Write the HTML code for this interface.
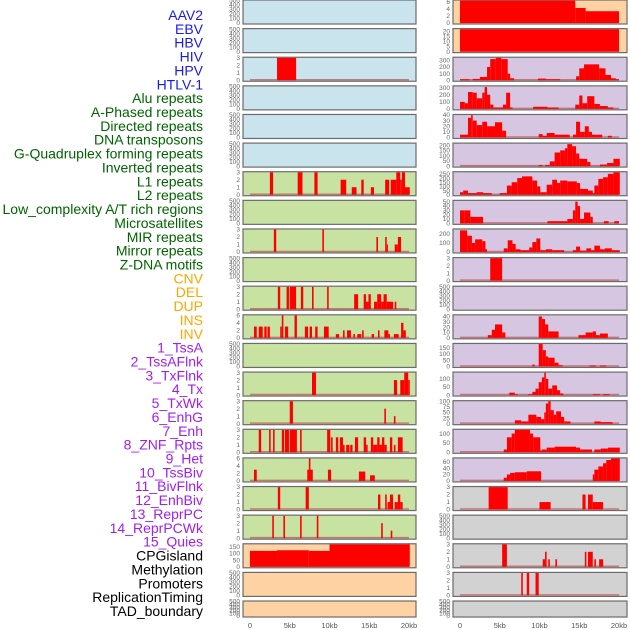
<!DOCTYPE html>
<html><head><meta charset="utf-8"><style>
body{margin:0;background:#fff;width:630px;height:630px;overflow:hidden}
svg{display:block;font-family:"Liberation Sans",sans-serif}
</style></head><body>
<svg id="chart" width="630" height="630" viewBox="0 0 630 630" xmlns="http://www.w3.org/2000/svg"></svg>
<script>
const labels=["AAV2","EBV","HBV","HIV","HPV","HTLV-1","Alu repeats","A-Phased repeats","Directed repeats","DNA transposons","G-Quadruplex forming repeats","Inverted repeats","L1 repeats","L2 repeats","Low_complexity A/T rich regions","Microsatellites","MIR repeats","Mirror repeats","Z-DNA motifs","CNV","DEL","DUP","INS","INV","1_TssA","2_TssAFlnk","3_TxFlnk","4_Tx","5_TxWk","6_EnhG","7_Enh","8_ZNF_Rpts","9_Het","10_TssBiv","11_BivFlnk","12_EnhBiv","13_ReprPC","14_ReprPCWk","15_Quies","CPGisland","Methylation","Promoters","ReplicationTiming","TAD_boundary"];
const labelColors=["#1a1aee","#1a1aee","#1a1aee","#1a1aee","#1a1aee","#1a1aee","#006400","#006400","#006400","#006400","#006400","#006400","#006400","#006400","#006400","#006400","#006400","#006400","#006400","#ffa500","#ffa500","#ffa500","#ffa500","#ffa500","#a020f0","#a020f0","#a020f0","#a020f0","#a020f0","#a020f0","#a020f0","#a020f0","#a020f0","#a020f0","#a020f0","#a020f0","#a020f0","#a020f0","#a020f0","#000","#000","#000","#000","#000"];
const xTickValues=[0,5,10,15,20];
const xTickLabels=["0","5kb","10kb","15kb","20kb"];
const E=[0,100,200,300,400,500];
const T3=[0,1,2,3];
const leftTicks=[E,E,T3,E,E,E,T3,E,T3,E,T3,[0,2,4,6],E,T3,T3,T3,[0,2,4,6],T3,T3,[0,50,100,150],E,E];
const leftMax=[500,500,3,500,500,500,3,500,3,500,3,6,500,3,3,3,6,3,3,170,500,500];
const leftSegs=[[],[],[[3.4,5.8,3]],[],[],[],
[[2.5,2.9,3],[6.0,6.6,3],[8.1,8.5,3],[11.4,12.1,2],[12.8,13.4,1],[14,14.3,2],[15.2,15.6,1],[17,17.5,2],[17.7,18.4,2],[18.4,18.9,3],[18.9,19.1,2],[19.1,19.5,3],[19.5,20.1,1]],
[],
[[3.0,3.3,3],[9.1,9.3,3],[15.9,16.1,2],[17.0,17.2,2],[17.2,17.3,1],[18.2,18.6,1],[18.6,19.0,2]],
[],
[[3.5,3.8,3],[4.6,4.9,3],[5.0,5.8,3],[6.4,6.7,3],[7.8,8.0,3],[9.7,9.9,3],[13.1,13.6,2],[14.3,14.6,2],[14.6,14.9,1],[14.9,15.2,2],[15.6,16,1],[16,16.5,2],[16.5,16.8,1],[16.8,17.2,2],[17.2,18.0,1],[18.2,18.4,1]],
[[0.5,0.85,3],[1.1,1.6,3],[1.8,2.1,3],[2.2,2.5,3],[3.8,4.0,3],[4.0,4.2,6],[4.4,4.8,3],[5.6,5.9,6],[6.9,7.3,3],[7.5,7.8,3],[8.2,8.5,3],[9.3,9.9,3],[10.8,11.2,1],[11.7,11.9,2],[12.2,12.7,2],[13,13.2,1],[13.5,14.0,1],[14.1,14.3,2],[15.3,15.6,1],[16.1,16.3,2],[16.9,17.4,2],[17.4,17.6,1],[18.1,18.7,1],[19.0,19.3,4],[19.3,19.6,2]],
[],
[[7.8,8.3,3],[18.1,18.5,2],[18.9,19.4,2],[19.4,19.9,3],[19.9,20.1,2]],
[[5.0,5.4,3],[16.9,17.1,2],[18.1,18.3,1]],
[[1.1,1.4,3],[2.4,2.6,3],[2.9,3.1,3],[4.0,4.3,3],[4.4,4.9,3],[5.0,5.9,3],[6.3,6.5,3],[9.7,10.1,3],[10.2,10.4,2],[10.8,11.1,2],[11.3,11.7,2],[11.7,11.9,1],[12.1,12.5,1],[12.6,12.9,1],[13.2,13.6,2],[14.3,14.6,2],[14.6,14.8,1],[15.2,15.5,2],[15.5,16,1],[16,16.3,2],[16.3,16.6,1],[16.6,16.9,2],[16.9,17.2,1],[17.6,17.9,2],[18.1,18.3,1],[18.6,19.2,2]],
[[0.5,0.85,3],[7.2,7.9,3],[7.4,7.6,6],[9.8,10.2,3],[13.7,14.5,2.5],[15.1,15.7,1.5]],
[[3.5,3.8,3],[7.0,7.4,3],[16.1,16.4,2],[17.0,17.2,2],[17.3,17.6,1],[17.6,18.0,2],[18.2,18.6,1],[18.6,18.9,2],[18.9,19.2,1]],
[[2.8,3.0,3],[4.2,4.4,3],[6.3,6.5,3],[8.4,8.6,3],[16.5,16.7,2],[17.7,17.9,1]],
[[0,3.4,120],[3.4,7.4,125],[7.4,10,120],[10,20.1,170]],
[],[]];
const rightTicks=[[0,2,4,6],[0,5,10,15,20],[0,100,200,300],[0,100,200,300],[0,10,20,30,40],[0,50,100,150,200],[0,50,100,150,200,250],[0,10,20,30,40,50],[0,100,200],T3,E,[0,10,20,30,40],[0,50,100,150],[0,50,100],[0,25,50,75,100],[0,50,100],[0,20,40,60],T3,E,T3,T3,E];
const rightMax=[6.3,22,340,320,40,215,270,52,250,3,500,42,180,140,100,120,70,3,500,3,3,500];
const rightSegs=[
[[0,14.5,6.3],[14.5,15.8,4.2],[15.8,20,3.3]],
[[0,20,22]],
[[0,1.2,15],[1.6,2.5,20],[2.5,3.4,50],[3.4,3.8,200],[3.8,4.5,320],[4.5,5.2,340],[5.2,6,320],[6,6.3,100],[6.3,6.8,30],[9.8,10.8,25],[10.8,12.6,15],[14.6,15,60],[15,15.6,180],[15.6,17.5,240],[17.5,18.3,180],[18.3,19,80],[19,19.6,30],[19.6,20,15]],
[[0,0.6,100],[0.6,1,80],[1,1.6,240],[1.6,2.1,230],[2.1,2.8,150],[2.8,3.1,230],[3.1,3.4,310],[3.4,3.8,200],[3.8,4.2,60],[4.2,5.4,20],[5.4,5.8,60],[5.8,6.3,230],[6.3,6.6,20],[9.2,11,30],[11,12.4,20],[14.5,15,60],[15,15.4,190],[15.4,16,80],[16,16.9,180],[16.9,17.6,70],[17.6,18.6,40],[18.6,19.3,20]],
[[0,1,5],[1,1.4,35],[1.4,1.6,40],[1.6,2.1,30],[2.1,2.8,22],[2.8,3.4,28],[3.4,4.4,20],[4.4,5.3,27],[5.3,5.8,12],[9.9,10.4,6],[10.4,10.9,3],[10.9,11.9,8],[11.9,13.8,5],[14.2,14.6,5],[14.6,15.1,28],[15.1,15.7,10],[15.7,16.2,20],[16.2,16.6,10],[16.6,17.9,5],[18.6,19.1,3]],
[[9.9,10.4,10],[10.7,11.3,10],[11.3,11.9,45],[11.9,12.6,130],[12.6,13.2,150],[13.2,13.5,170],[13.5,14.1,210],[14.1,14.6,190],[14.6,15,120],[15,16,70],[16,16.4,40],[17.6,18.5,15],[18.5,19.3,30],[19.3,20.1,70]],
[[0,0.4,30],[0.4,1,50],[1,2.1,20],[2.1,2.9,30],[2.9,4,20],[5,5.9,20],[5.9,6.5,110],[6.5,7.2,150],[7.2,7.8,200],[7.8,9.1,220],[9.1,9.7,170],[9.7,10.1,100],[10.1,10.9,30],[10.9,11.6,120],[11.6,12.2,180],[12.2,12.6,140],[12.6,13.5,170],[13.5,14.7,160],[14.7,15.1,140],[15.1,16.1,70],[16.1,16.7,50],[16.7,16.9,20],[16.9,17.4,110],[17.4,18,190],[18,18.6,210],[18.6,19.3,250],[19.3,20.1,270]],
[[0,0.6,30],[0.6,1.3,30],[1.3,2.9,15],[11,13.5,5],[13.5,14.2,10],[14.2,14.5,30],[14.5,14.8,50],[14.8,15.1,40],[15.1,15.6,10],[15.6,16.4,25],[16.4,16.7,15],[18.1,18.7,5],[19.4,20,5]],
[[0,0.9,240],[0.9,1.5,180],[1.5,1.9,100],[1.9,2.8,140],[2.8,3.2,120],[3.2,3.4,30],[5.5,6.0,40],[6.0,6.6,130],[6.6,7.0,90],[7.0,7.6,30],[7.6,8.7,20],[8.7,9.1,50],[9.1,9.6,110],[9.6,10.1,150],[10.1,10.8,20],[10.8,11.6,30],[11.6,13.1,20],[14.2,14.6,20],[14.6,15.1,60],[15.1,15.9,15],[15.9,16.5,40],[16.5,16.9,20],[16.9,17.6,70],[17.6,18.2,30],[18.2,19.1,40],[19.1,20.1,20]],
[[3.8,5.3,3]],
[],
[[3.5,4,5],[4,4.4,15],[4.4,5.3,25],[5.3,5.7,10],[9.9,10.3,40],[10.3,10.7,35],[10.7,11.1,25],[11.1,12.4,12],[14.9,15.8,5],[15.8,16.7,10],[16.7,17.1,12],[17.1,17.6,5],[17.6,18.6,8]],
[[9.1,9.4,15],[9.9,10.4,180],[10.4,10.8,130],[10.8,11.1,80],[11.1,11.9,70],[11.9,12.4,30],[12.4,12.9,10],[16.3,17.1,8],[17.6,18.4,8]],
[[6.2,6.9,15],[6.9,7.3,5],[8.6,9.1,5],[9.1,9.5,20],[9.5,9.9,40],[9.9,10.3,80],[10.3,10.6,110],[10.6,10.8,140],[10.8,11.1,100],[11.1,11.6,40],[11.6,12.2,60],[12.2,12.6,30],[12.6,13,10],[16.7,17.6,5],[18,18.8,5]],
[[6.9,7.7,15],[7.7,8.6,10],[8.6,9.6,40],[9.6,10.2,30],[10.2,10.6,20],[10.6,10.8,50],[10.8,11.1,90],[11.1,11.4,100],[11.4,11.8,60],[11.8,12.1,40],[12.1,12.7,55],[12.7,13.1,30],[13.1,13.9,10],[16.9,17.7,10],[17.7,19.2,7]],
[[5.5,5.9,15],[5.9,6.5,80],[6.5,6.9,100],[6.9,8.8,120],[8.8,9.2,100],[9.2,10.1,80],[10.1,10.3,10],[10.3,10.9,15],[10.9,11.9,25],[11.9,14.6,30],[14.6,15.1,25],[15.1,16.6,15],[16.9,17.7,15],[17.7,18.6,20],[18.6,20.1,25]],
[[5.5,5.9,10],[5.9,6.3,20],[6.3,6.9,25],[6.9,8.4,27],[8.4,10.2,30],[16.7,16.9,20],[16.9,17.4,35],[17.4,18,45],[18,18.4,55],[18.4,19,65],[19,20.1,70]],
[[3.6,6.0,3],[10,11.4,1],[15.4,15.8,2],[16.1,16.7,2],[16.7,18,1]],
[],
[[5.3,5.9,3],[10.4,10.7,1],[10.7,10.9,2],[11.1,11.3,1],[12,12.2,1],[15.7,15.9,2],[16.1,16.7,2],[16.9,17.1,1],[17.5,18,1]],
[[7.7,7.9,3],[8.4,8.7,3],[9.5,9.9,3]],
[]];
const leftBg=i=>i<6?"#c9e4ec":(i<19?"#c8e2a2":"#fed2a2");
const rightBg=i=>i<2?"#fed2a2":(i<17?"#d6c6e2":"#d2d2d2");

const svg=document.getElementById('chart');
const NS="http://www.w3.org/2000/svg";
function mk(tag,attrs,parent){const e=document.createElementNS(NS,tag);for(const k in attrs)e.setAttribute(k,attrs[k]);(parent||svg).appendChild(e);return e;}
const rowTop=i=>i*28.62;
const rowH=i=>i===21?16:24;
function xScale(side,kb){return (side===0?250:460)+kb*7.95;}

labels.forEach((t,i)=>{
  const e=mk('text',{x:203,y:20+i*13.86,'text-anchor':'end','font-size':14,fill:labelColors[i]});
  e.textContent=t;
  
  
});

function panel(side,i,segs,ymax,ticks,bg){
  const bx=side===0?243:453, bw=side===0?173:174;
  const top=rowTop(i), h=rowH(i), bottom=top+h;
  const g=mk('g',{});
  
  
  const r=mk('rect',{x:bx,y:top,width:bw,height:h,fill:bg,stroke:'#6b6b6b','stroke-width':1.2},g);
  
  
  const yS=v=>bottom-1-(v/ymax)*(h-1.5);
  ticks.forEach(tv=>{
    const ty=Math.min(yS(tv),bottom-1);
    const t=mk('text',{x:bx-3,y:ty+2.2,'text-anchor':'end','font-size':6.5,fill:'#666'},g);
    t.textContent=tv;
    
    
  });
  if(segs.length){
    const bl=mk('line',{x1:xScale(side,0),x2:xScale(side,20),y1:bottom-1.5,y2:bottom-1.5,stroke:'#c05050','stroke-width':1.5,opacity:0.7},g);
    
    
  }
  segs.forEach(s=>{
    const x0=xScale(side,s[0]),x1=xScale(side,s[1]);
    const y=Math.max(yS(s[2]),top+0.6);
    const b=mk('rect',{x:x0,y:y,width:Math.max(x1-x0,1.2),height:bottom-1-y,fill:'#ff0000'},g);
    
    
  });
}
for(let i=0;i<22;i++){
  panel(0,i,leftSegs[i],leftMax[i],leftTicks[i],leftBg(i));
  panel(1,i,rightSegs[i],rightMax[i],rightTicks[i],rightBg(i));
}
[0,1].forEach(side=>{
  xTickValues.forEach((v,k)=>{
    const t=mk('text',{x:xScale(side,v),y:628,'text-anchor':'middle','font-size':7.5,fill:'#555'});
    t.textContent=xTickLabels[k];
    
    
  });
});
</script>
</body></html>
